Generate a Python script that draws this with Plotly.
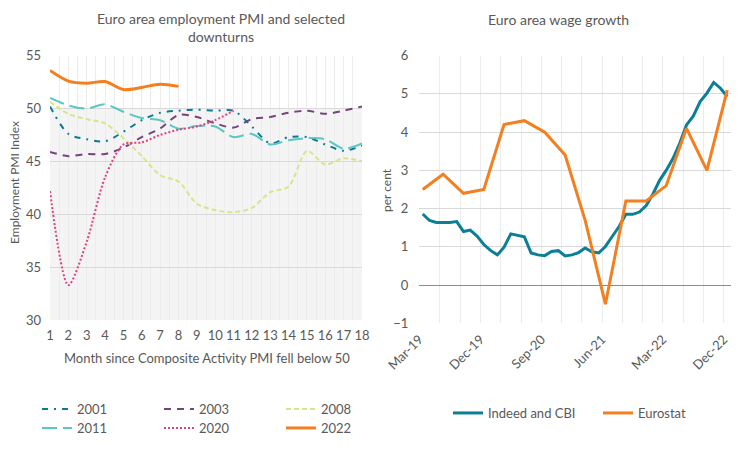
import plotly.graph_objects as go
import pandas as pd

# ---------------- Left chart data ----------------
months = list(range(1, 19))
month_ticks = [str(m) for m in months]
pmi_2001 = [50.2, 47.6, 47.1, 46.9, 47.8, 48.9, 49.6, 49.8, 49.9, 49.8, 49.8, 48.3, 46.7, 47.3, 47.3, 46.6, 46.0, 46.5]
pmi_2003 = [45.9, 45.5, 45.7, 45.7, 46.3, 47.3, 48.1, 49.4, 49.2, 48.6, 48.2, 49.0, 49.2, 49.6, 49.8, 49.5, 49.8, 50.2]
pmi_2008 = [50.65, 49.5, 49.0, 48.6, 47.2, 45.5, 43.7, 43.1, 41.0, 40.4, 40.2, 40.6, 42.1, 42.6, 46.0, 44.7, 45.3, 45.0]
pmi_2011 = [51.0, 50.3, 50.0, 50.4, 49.7, 49.1, 48.9, 48.1, 48.35, 48.3, 47.3, 47.6, 46.6, 47.0, 47.2, 47.1, 46.2, 46.7]
pmi_2020 = [42.2, 33.3, 37.4, 43.5, 46.6, 46.8, 47.5, 48.0, 48.3, 48.9, 49.8]
pmi_2022 = [53.6, 52.6, 52.4, 52.55, 51.8, 52.0, 52.3, 52.1]

# ---------------- Right chart data ----------------
wage_months = pd.date_range("2019-03-01", periods=46, freq="MS")
indeed_cbi = [1.86, 1.69, 1.64, 1.64, 1.64, 1.66, 1.40, 1.44, 1.28, 1.06, 0.90, 0.79,
              0.99, 1.34, 1.29, 1.26, 0.84, 0.79, 0.77, 0.88, 0.90, 0.76, 0.79, 0.85,
              0.97, 0.87, 0.84, 1.01, 1.27, 1.53, 1.85, 1.85, 1.91, 2.08, 2.39, 2.74,
              3.00, 3.31, 3.71, 4.19, 4.42, 4.80, 5.02, 5.30, 5.15, 4.93]
eurostat_quarters = ["2019-03-01", "2019-06-01", "2019-09-01", "2019-12-01",
                     "2020-03-01", "2020-06-01", "2020-09-01", "2020-12-01",
                     "2021-03-01", "2021-06-01", "2021-09-01", "2021-12-01",
                     "2022-03-01", "2022-06-01", "2022-09-01", "2022-12-01"]
eurostat = [2.5, 2.9, 2.4, 2.5, 4.2, 4.3, 4.0, 3.4, 1.7, -0.5, 2.2, 2.2, 2.6, 4.1, 3.0, 5.1]

FONT = "Lato"
TXT = "#595959"
W, H = 756, 450

fig = go.Figure()

left_series = [
    ("2001", pmi_2001, "#0a7b91", "6px,6px,2px,6px", 2, "legend"),
    ("2003", pmi_2003, "#76437d", "7px,6px", 2, "legend"),
    ("2008", pmi_2008, "#d9e48c", "5px,3px", 2, "legend"),
    ("2011", pmi_2011, "#5cc6c0", "15px,6px", 2, "legend3"),
    ("2020", pmi_2020, "#e2407f", "2px,2px", 2, "legend3"),
    ("2022", pmi_2022, "#f47f20", "solid", 3, "legend3"),
]
for name, vals, col, dash, w, lg in left_series:
    fig.add_trace(go.Scatter(
        x=months[:len(vals)], y=vals, name=name, mode="lines",
        line=dict(color=col, width=w, dash=dash, shape="spline", smoothing=0.8),
        xaxis="x", yaxis="y", legend=lg, hoverinfo="skip"))

fig.add_trace(go.Scatter(
    x=wage_months, y=indeed_cbi, name="Indeed and CBI", mode="lines",
    line=dict(color="#0a7f96", width=3), xperiod="M1", xperiodalignment="middle",
    xaxis="x2", yaxis="y2", legend="legend2"))
fig.add_trace(go.Scatter(
    x=pd.to_datetime(eurostat_quarters), y=eurostat, name="Eurostat", mode="lines",
    line=dict(color="#f47f20", width=3), xperiod="M1", xperiodalignment="middle",
    xaxis="x2", yaxis="y2", legend="legend2"))

def px_x(p):
    return p / W

def px_y(p):
    return 1 - p / H

tickfont = dict(family=FONT, size=13, color=TXT)
legfont = dict(family=FONT, size=13, color=TXT)
hgrid = "#d9d9d9"
vgrid = "#ececec"

fig.update_layout(
    width=W, height=H,
    margin=dict(l=0, r=0, t=0, b=0, autoexpand=False),
    paper_bgcolor="white", plot_bgcolor="white",
    font=dict(family=FONT, color=TXT),
    xaxis=dict(domain=[px_x(50), px_x(362)], range=[1, 18], tickmode="array",
               tickvals=months, ticktext=month_ticks, showgrid=True, gridcolor=vgrid,
               minor=dict(dtick=0.5, tick0=1, showgrid=True, gridcolor=vgrid),
               zeroline=False, showline=False, ticks="", tickfont=tickfont,
               tickangle=0, ticklabelstandoff=6, anchor="y", automargin=False),
    yaxis=dict(domain=[px_y(320), px_y(55.7)], range=[30, 55], dtick=5, tick0=30,
               showgrid=True, gridcolor=hgrid, zeroline=False, showline=False,
               ticks="", tickfont=tickfont, ticklabelstandoff=8, anchor="x",
               automargin=False),
    xaxis2=dict(domain=[px_x(419.3), px_x(730.7)], type="date",
                range=["2019-03-01", "2023-01-01"], tick0="2019-03-01", dtick="M9",
                tickformat="%b-%y", tickangle=-45, showgrid=True, gridcolor=vgrid,
                minor=dict(dtick="M3", tick0="2019-03-01", showgrid=True, gridcolor=vgrid),
                zeroline=False, showline=False, ticks="", tickfont=tickfont,
                ticklabelstandoff=5, anchor="y2", automargin=False),
    yaxis2=dict(domain=[px_y(323.3), px_y(55.7)], range=[-1, 6], dtick=1, tick0=-1,
                showgrid=True, gridcolor=hgrid, zeroline=True, zerolinecolor="#8c8c8c",
                zerolinewidth=1, showline=False, ticks="", tickfont=tickfont,
                ticklabelstandoff=10, anchor="x2", automargin=False),
    legend=dict(orientation="h", x=px_x(37), y=px_y(394), xanchor="left", yanchor="top",
                entrywidth=77, entrywidthmode="pixels",
                font=legfont, bgcolor="rgba(0,0,0,0)"),
    legend3=dict(orientation="h", x=px_x(37), y=px_y(413), xanchor="left", yanchor="top",
                 entrywidth=77, entrywidthmode="pixels",
                 font=legfont, bgcolor="rgba(0,0,0,0)"),
    legend2=dict(orientation="h", x=px_x(448), y=px_y(398), xanchor="left", yanchor="top",
                 entrywidth=105, entrywidthmode="pixels",
                 font=legfont, bgcolor="rgba(0,0,0,0)"),
    showlegend=True,
)

# shaded zone below 50 on the left chart
fig.add_shape(type="rect", xref="x domain", yref="y", x0=0, x1=1, y0=30, y1=50,
              fillcolor="#f4f4f4", line=dict(width=0), layer="below")

ann = [
    dict(text="Euro area employment PMI and selected<br>downturns", x=px_x(221), y=px_y(28),
         font=dict(family=FONT, size=14, color=TXT)),
    dict(text="Euro area wage growth", x=px_x(558), y=px_y(20),
         font=dict(family=FONT, size=14, color=TXT)),
    dict(text="Month since Composite Activity PMI fell below 50", x=px_x(206.5), y=px_y(358),
         font=dict(family=FONT, size=13, color=TXT)),
    dict(text="Employment PMI Index", x=px_x(14), y=px_y(183), textangle=-90,
         font=dict(family=FONT, size=12, color=TXT)),
    dict(text="per cent", x=px_x(386), y=px_y(190), textangle=-90,
         font=dict(family=FONT, size=12, color=TXT)),
]
for a in ann:
    fig.add_annotation(xref="paper", yref="paper", showarrow=False,
                       xanchor="center", yanchor="middle", **a)

fig.write_html("out.html", config={"displayModeBar": False},
               post_script="document.body.style.margin='0';document.body.style.padding='0';")
